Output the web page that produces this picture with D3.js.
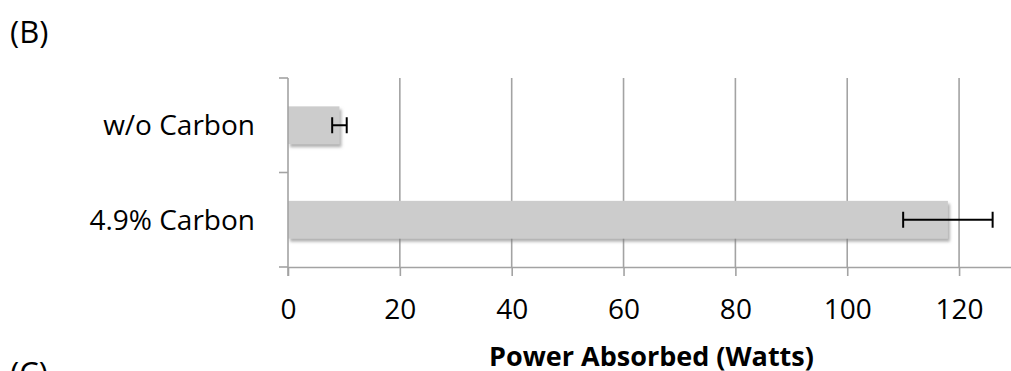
<!DOCTYPE html>
<html>
<head>
<meta charset="utf-8">
<script src="https://cdn.jsdelivr.net/npm/d3@7/dist/d3.min.js"></script>
<style>
  html, body { margin: 0; padding: 0; background: #fff; }
  svg { display: block; }
  text { font-family: "Open Sans", "DejaVu Sans", sans-serif; fill: #000; }
</style>
</head>
<body>
<svg id="chart" width="1011" height="371"></svg>
<script>
// Power absorbed by the sample, with and without carbon
const categories = ["w/o Carbon", "4.9% Carbon"];
const powerValues = [9.2, 118];
const powerErrors = [1.3, 8];
const xTickValues = [0, 20, 40, 60, 80, 100, 120];
const xTitle = "Power Absorbed (Watts)";
const panelLabels = ["(B)", "(C)"];

const svg = d3.select("#chart");

const plot = { left: 288, right: 1015, top: 78, bottom: 267 };
const axisColor = "#a3a3a3";

// drop shadow under the bars
const defs = svg.append("defs");
const shadow = defs.append("filter")
  .attr("id", "barShadow")
  .attr("x", "-5%").attr("y", "-20%")
  .attr("width", "115%").attr("height", "160%");
shadow.append("feDropShadow")
  .attr("dx", 2).attr("dy", 3)
  .attr("stdDeviation", 1.6)
  .attr("flood-color", "#7a7a7a")
  .attr("flood-opacity", 0.6);

const x = d3.scaleLinear().domain([0, 130]).range([plot.left, plot.right]);
const y = d3.scaleBand()
  .domain(categories)
  .range([plot.top, plot.bottom])
  .paddingInner(0.6)
  .paddingOuter(0.3);

// vertical gridlines
svg.append("g")
  .selectAll("line")
  .data(xTickValues.filter(d => d !== 0))
  .join("line")
  .attr("x1", d => x(d)).attr("x2", d => x(d))
  .attr("y1", plot.top).attr("y2", plot.bottom)
  .attr("stroke", axisColor)
  .attr("stroke-width", 1.6);

// bars
svg.append("g")
  .selectAll("rect")
  .data(categories)
  .join("rect")
  .attr("x", x(0))
  .attr("y", d => y(d))
  .attr("width", (d, i) => x(powerValues[i]) - x(0))
  .attr("height", y.bandwidth())
  .attr("fill", "#cccccc")
  .attr("filter", "url(#barShadow)");

// error bars
const capHalf = 8;
const err = svg.append("g")
  .attr("stroke", "#000")
  .attr("stroke-width", 2)
  .attr("fill", "none");
categories.forEach((c, i) => {
  const cy = y(c) + y.bandwidth() / 2;
  const lo = x(powerValues[i] - powerErrors[i]);
  const hi = x(powerValues[i] + powerErrors[i]);
  err.append("line").attr("x1", lo).attr("x2", hi).attr("y1", cy).attr("y2", cy);
  err.append("line").attr("x1", lo).attr("x2", lo).attr("y1", cy - capHalf).attr("y2", cy + capHalf);
  err.append("line").attr("x1", hi).attr("x2", hi).attr("y1", cy - capHalf).attr("y2", cy + capHalf);
});

// x axis
const xAxis = svg.append("g")
  .attr("transform", `translate(0,${plot.bottom})`)
  .call(d3.axisBottom(x).tickValues(xTickValues).tickSize(9).tickPadding(23).tickSizeOuter(0));
xAxis.select(".domain").attr("stroke", axisColor).attr("stroke-width", 1.6);
xAxis.selectAll(".tick line").attr("stroke", axisColor).attr("stroke-width", 1.6);
xAxis.selectAll(".tick text")
  .attr("font-size", 28)
  .attr("font-family", "'Open Sans', sans-serif")
  .attr("fill", "#000");

// y axis: a tick on each category boundary
const boundaries = [plot.top, (y(categories[0]) + y.bandwidth() + y(categories[1])) / 2, plot.bottom];
const yAxis = svg.append("g");
yAxis.append("line")
  .attr("x1", plot.left).attr("x2", plot.left)
  .attr("y1", plot.top).attr("y2", plot.bottom + 9)
  .attr("stroke", axisColor).attr("stroke-width", 1.6);
yAxis.selectAll("line.tick")
  .data(boundaries)
  .join("line")
  .attr("class", "tick")
  .attr("x1", plot.left - 9).attr("x2", plot.left)
  .attr("y1", d => d).attr("y2", d => d)
  .attr("stroke", axisColor).attr("stroke-width", 1.6);
yAxis.selectAll("text")
  .data(categories)
  .join("text")
  .attr("x", plot.left - 33)
  .attr("y", d => y(d) + y.bandwidth() / 2)
  .attr("dy", "0.35em")
  .attr("text-anchor", "end")
  .attr("font-size", 28)
  .text(d => d);

// axis title
svg.append("text")
  .attr("x", (plot.left + plot.right) / 2)
  .attr("y", 366)
  .attr("text-anchor", "middle")
  .attr("font-size", 27)
  .attr("font-weight", "bold")
  .text(xTitle);

// panel labels
svg.append("text").attr("x", 10).attr("y", 43).attr("font-size", 31).text(panelLabels[0]);
svg.append("text").attr("x", 10).attr("y", 384).attr("font-size", 31).text(panelLabels[1]);
</script>
</body>
</html>
